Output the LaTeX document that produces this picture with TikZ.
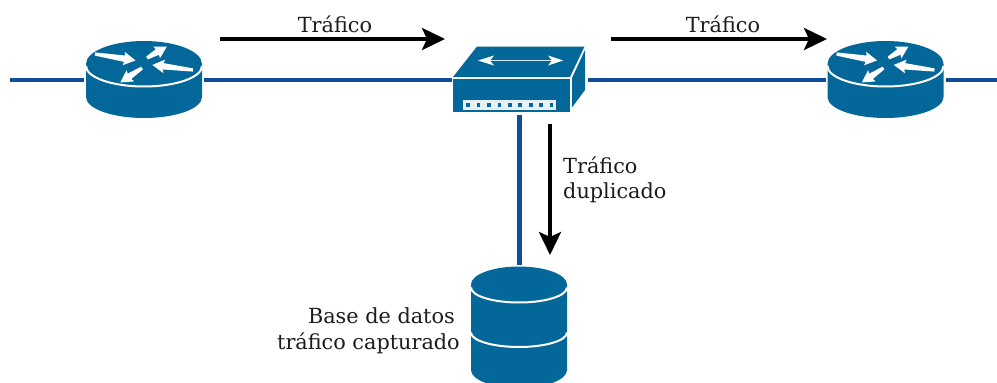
\documentclass[tikz,border=0pt]{standalone}
\usepackage{fontspec}
\setmainfont{DejaVu Serif}
\usetikzlibrary{arrows.meta}
\definecolor{devblue}{HTML}{04679A}
\definecolor{linkblue}{HTML}{0F4C9A}
\definecolor{labelgray}{HTML}{1C1C1C}
\tikzset{
  x=1pt,y=-1pt,
  link/.style={draw=linkblue,line width=4.2pt},
  traffic/.style={draw=black,line width=3.9pt,-{Stealth[length=23pt,width=22pt,inset=5pt]}},
  label/.style={text=labelgray,font=\fontsize{20.8}{25.5}\selectfont,inner sep=0pt,align=left},
  edgeline/.style={draw=white,line width=2pt},
  anchorbox/.style={inner sep=0pt,outer sep=0pt,draw=none}
}
% tapered white arrow: tail x, tail y, canvas angle, length
\newcommand{\rarr}[4]{%
  \begin{scope}[shift={(#1,#2)},rotate=#3]
    \fill[white] (0,-1.6) -- (#4-11,-3.2) -- (#4-12,-6.8) -- (#4,0) -- (#4-12,6.8) -- (#4-11,3.2) -- (0,1.6) -- cycle;
  \end{scope}}
\newcommand{\routerart}[1]{%
  \begin{scope}[shift={(#1,0)}]
    \fill[devblue] (-58,64) arc[start angle=180,end angle=360,x radius=58,y radius=23]
      -- (58,97) arc[start angle=0,end angle=180,x radius=58,y radius=21] -- cycle;
    \draw[edgeline] (-58,66) arc[start angle=180,end angle=0,x radius=58,y radius=20.5];
    \rarr{-49}{54}{-9}{41}
    \rarr{-2}{68}{213.7}{26}
    \rarr{3}{58}{30}{23}
    \rarr{49}{70}{172.9}{41}
  \end{scope}}
\begin{document}
\begin{tikzpicture}
  \useasboundingbox (0,0) rectangle (997,383);
  \clip (0,0) rectangle (997,383);
  \fill[white] (0,0) rectangle (997,383);

  % invisible anchor nodes for the devices
  \node[anchorbox,minimum width=120pt,minimum height=80pt] (r1) at (144,80) {};
  \node[anchorbox,minimum width=120pt,minimum height=80pt] (r2) at (885.5,80) {};
  \node[anchorbox,minimum width=136pt,minimum height=70pt] (sw) at (519.5,80) {};
  \node[anchorbox,minimum width=100pt,minimum height=120pt] (db) at (519.5,325) {};
  \coordinate (inL) at (10,80);
  \coordinate (outR) at (997,80);
  \coordinate (a1s) at (220,39);
  \coordinate (a1e) at (445,39);
  \coordinate (a2s) at (611,39);
  \coordinate (a2e) at (827,39);
  \coordinate (a3s) at (550,124);
  \coordinate (a3e) at (550,255);

  % links
  \draw[link] (inL) -- (r1.west);
  \draw[link] (r1.east) -- (sw.west);
  \draw[link] (sw.east) -- (r2.west);
  \draw[link] (r2.east) -- (outR);
  \draw[link] (sw.south) -- (db.north);

  % routers
  \routerart{144}
  \routerart{885.5}

  % switch
  \fill[devblue] (453,77) -- (477,46.5) -- (584.5,46.5) -- (570,77) -- cycle;
  \fill[devblue] (453,78.5) rectangle (569.5,112);
  \fill[devblue] (572,78) -- (585,50) -- (585,90) -- (572,107.5) -- cycle;
  \draw[white!85!devblue,line width=1.4pt] (479,60.5) -- (562,60.5);
  \fill[white] (478,60.5) -- (494,55.5) -- (490,60.5) -- (494,65.5) -- cycle;
  \fill[white] (563,60.5) -- (548,55.5) -- (552,60.5) -- (548,65.5) -- cycle;
  \fill[white!90!devblue] (463,100) rectangle (556,109.5);
  \foreach \i in {0,...,8} {
    \fill[devblue] ({468+\i*10.45-1.8},103) rectangle ({468+\i*10.45+1.8},106.5);
  }

  % database
  \fill[devblue] (471,284.5) arc[start angle=180,end angle=360,x radius=48,y radius=18]
    -- (567,370) arc[start angle=0,end angle=180,x radius=48,y radius=18] -- cycle;
  \draw[edgeline] (471,287.5) arc[start angle=180,end angle=0,x radius=48,y radius=15];
  \draw[edgeline] (471,332.5) arc[start angle=180,end angle=0,x radius=48,y radius=14.5];

  % traffic arrows
  \draw[traffic] (a1s) -- (a1e);
  \draw[traffic] (a2s) -- (a2e);
  \draw[traffic] (a3s) -- (a3e);

  % labels
  \node[label] (t1) at (335,24) {Tráfico};
  \node[label] (t2) at (723,24) {Tráfico};
  \node[label,anchor=west] (t3) at (563,180) {Tráfico\\duplicado};
  \node[label,align=right,anchor=east] (t4) at (460,331) {Base de datos\hspace*{5pt}\\tráfico capturado};
\end{tikzpicture}
\end{document}
